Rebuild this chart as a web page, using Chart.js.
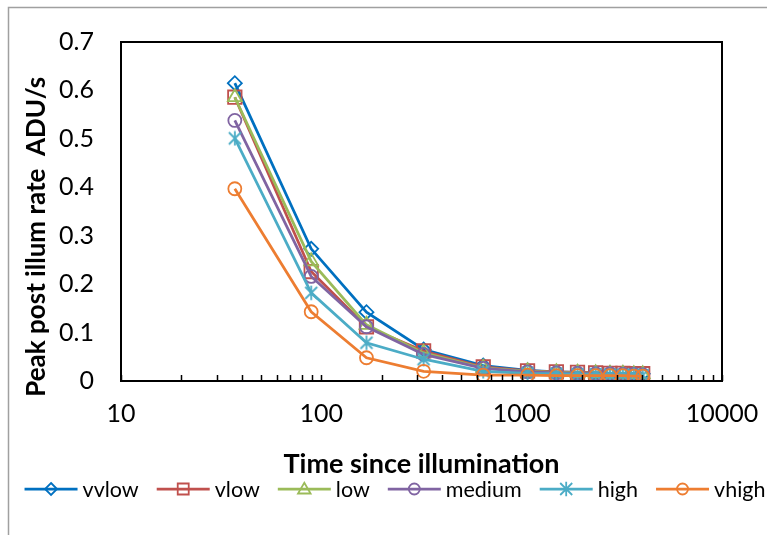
<!DOCTYPE html>
<html>
<head>
<meta charset="utf-8">
<script src="https://cdn.jsdelivr.net/npm/chart.js@4"></script>
<style>
  html, body { margin: 0; padding: 0; background: #fff; }
  #wrap { width: 767px; height: 535px; }
</style>
</head>
<body>
<div id="wrap"><canvas id="chart" width="767" height="535"></canvas></div>
<script>
// time since illumination (x), one value per measurement
const times = [37, 89, 168, 324, 643, 1070, 1490, 1900, 2340, 2760, 3200, 3630, 4020];

// peak post illum rate, ADU/s
const vvlow  = [0.615, 0.273, 0.142, 0.065, 0.032, 0.022, 0.019, 0.018, 0.017, 0.016, 0.016, 0.015, 0.015];
const vlow   = [0.586, 0.226, 0.112, 0.062, 0.029, 0.021, 0.019, 0.018, 0.017, 0.016, 0.016, 0.015, 0.015];
const low    = [0.586, 0.247, 0.116, 0.058, 0.027, 0.020, 0.018, 0.017, 0.016, 0.015, 0.015, 0.014, 0.014];
const medium = [0.538, 0.216, 0.112, 0.055, 0.026, 0.019, 0.017, 0.016, 0.015, 0.015, 0.014, 0.014, 0.013];
const high   = [0.501, 0.182, 0.079, 0.045, 0.020, 0.016, 0.015, 0.014, 0.014, 0.013, 0.013, 0.013, 0.012];
const vhigh  = [0.397, 0.143, 0.048, 0.020, 0.012, 0.012, 0.011, 0.011, 0.011, 0.011, 0.011, 0.010, 0.010];

const seriesNames = ["vvlow", "vlow", "low", "medium", "high", "vhigh"];
const seriesData = [vvlow, vlow, low, medium, high, vhigh];
const seriesColors = ["#0070C0", "#C0504D", "#9BBB59", "#8064A2", "#4BACC6", "#ED7D31"];
const seriesMarkers = ["diamond", "square", "triangle", "circle", "asterisk", "circle"];

const xTickValues = [10, 20, 30, 40, 50, 60, 70, 80, 90,
                     100, 200, 300, 400, 500, 600, 700, 800, 900,
                     1000, 2000, 3000, 4000, 5000, 6000, 7000, 8000, 9000, 10000];
const yMax = 0.7;
const yStep = 0.1;

const FONT = "Lato, 'Open Sans', sans-serif";
const LINE_W = 2.75;

function drawMarker(ctx, kind, x, y, s) {
    /**
     * Draws one open marker centred on (x, y). s is the half size.
     */
    ctx.beginPath();
    if (kind === "diamond") {
        ctx.moveTo(x, y - s); ctx.lineTo(x + s, y); ctx.lineTo(x, y + s); ctx.lineTo(x - s, y); ctx.closePath();
    } else if (kind === "square") {
        ctx.rect(x - s, y - s, 2 * s, 2 * s);
    } else if (kind === "triangle") {
        ctx.moveTo(x, y - s * 1.05); ctx.lineTo(x + s * 1.05, y + s * 0.75); ctx.lineTo(x - s * 1.05, y + s * 0.75); ctx.closePath();
    } else if (kind === "circle") {
        ctx.arc(x, y, s, 0, Math.PI * 2);
    } else if (kind === "asterisk") {
        ctx.moveTo(x - s, y - s); ctx.lineTo(x + s, y + s);
        ctx.moveTo(x + s, y - s); ctx.lineTo(x - s, y + s);
        ctx.moveTo(x, y - s * 1.2); ctx.lineTo(x, y + s * 1.2);
    }
    ctx.stroke();
}

function asteriskImage(color) {
    const c = document.createElement("canvas");
    c.width = 16; c.height = 16;
    const g = c.getContext("2d");
    g.strokeStyle = color;
    g.lineWidth = 1.8;
    drawMarker(g, "asterisk", 8, 8, 6);
    return c;
}

function pointStyleFor(kind, color) {
    if (kind === "diamond") return {style: "rectRot", radius: 7};
    if (kind === "square") return {style: "rect", radius: 9.5};
    if (kind === "triangle") return {style: "triangle", radius: 8};
    if (kind === "circle") return {style: "circle", radius: 6.5};
    return {style: asteriskImage(color), radius: 7};
}

const datasets = seriesNames.map((name, i) => {
    const ps = pointStyleFor(seriesMarkers[i], seriesColors[i]);
    return {
        label: name,
        data: times.map((t, k) => ({x: t, y: seriesData[i][k]})),
        borderColor: seriesColors[i],
        backgroundColor: "rgba(0,0,0,0)",
        borderWidth: LINE_W,
        pointStyle: ps.style,
        pointRadius: ps.radius,
        pointBorderWidth: 1.8,
        pointBorderColor: seriesColors[i],
        pointBackgroundColor: "rgba(0,0,0,0)",
        tension: 0,
        order: seriesNames.length - i
    };
});

// grey outer border, plot frame, inward x ticks and the legend
const decorPlugin = {
    id: "decor",
    beforeDraw(chart) {
        const ctx = chart.ctx;
        ctx.save();
        ctx.fillStyle = "#fff";
        ctx.fillRect(0, 0, chart.width, chart.height);
        ctx.strokeStyle = "#a0a0a0";
        ctx.lineWidth = 1.5;
        ctx.beginPath();
        ctx.moveTo(8.5, chart.height);
        ctx.lineTo(8.5, 7.5);
        ctx.lineTo(chart.width, 7.5);
        ctx.stroke();
        ctx.restore();
    },
    afterDraw(chart) {
        const ctx = chart.ctx;
        const area = chart.chartArea;
        const xs = chart.scales.x;
        ctx.save();
        ctx.strokeStyle = "#000";
        ctx.lineWidth = 1.5;
        ctx.beginPath();
        xs.ticks.forEach(t => {
            const px = Math.round(xs.getPixelForValue(t.value)) + 0.5;
            ctx.moveTo(px, area.bottom);
            ctx.lineTo(px, area.bottom - 6);
        });
        ctx.stroke();
        ctx.lineWidth = 2;
        ctx.strokeRect(area.left, area.top, area.right - area.left, area.bottom - area.top);

        // legend: line + marker + label, centred as one row
        const legendY = 489;
        const lineLen = 53, textGap = 5, itemGap = 18;
        ctx.font = "21.5px " + FONT;
        ctx.textBaseline = "middle";
        const widths = seriesNames.map(n => lineLen + textGap + ctx.measureText(n).width);
        const total = widths.reduce((a, b) => a + b, 0) + itemGap * (widths.length - 1);
        let x = 395 - total / 2;
        seriesNames.forEach((n, i) => {
            ctx.strokeStyle = seriesColors[i];
            ctx.lineWidth = LINE_W;
            ctx.beginPath();
            ctx.moveTo(x, legendY);
            ctx.lineTo(x + lineLen, legendY);
            ctx.stroke();
            ctx.lineWidth = 1.8;
            const m = seriesMarkers[i];
            const s = m === "square" ? 5.5 : m === "circle" ? 5.5 : 6;
            drawMarker(ctx, m, x + lineLen / 2, legendY, s);
            ctx.fillStyle = "#000";
            ctx.fillText(n, x + lineLen + textGap, legendY + 1);
            x += widths[i] + itemGap;
        });
        ctx.restore();
    }
};

new Chart(document.getElementById("chart"), {
    type: "line",
    data: {datasets},
    plugins: [decorPlugin],
    options: {
        responsive: false,
        animation: false,
        devicePixelRatio: 1,
        layout: {padding: {left: 12, right: 45, top: 42, bottom: 54}},
        plugins: {
            legend: {display: false},
            tooltip: {enabled: false}
        },
        scales: {
            x: {
                type: "logarithmic",
                min: 10,
                max: 10000,
                afterBuildTicks: (scale) => {
                    scale.ticks = xTickValues.map(v => ({value: v}));
                },
                afterFit: (scale) => {
                    scale.height = 100;
                    scale.paddingLeft = 0;
                    scale.paddingRight = 0;
                },
                ticks: {
                    autoSkip: false,
                    maxRotation: 0,
                    padding: 18,
                    color: "#000",
                    font: {family: FONT, size: 25},
                    callback: (v) => [10, 100, 1000, 10000].includes(v) ? String(v) : ""
                },
                grid: {display: false, drawTicks: false},
                border: {display: false},
                title: {
                    display: true,
                    text: "Time since illumination",
                    color: "#000",
                    font: {family: FONT, size: 27, weight: "bold"},
                    padding: {top: 0, bottom: 1}
                }
            },
            y: {
                type: "linear",
                min: 0,
                max: yMax,
                afterFit: (scale) => { scale.width = 109; },
                ticks: {
                    stepSize: yStep,
                    padding: 27,
                    color: "#000",
                    font: {family: FONT, size: 25},
                    callback: (v) => Number(v.toFixed(1)).toString()
                },
                grid: {display: false, drawTicks: false},
                border: {display: false},
                title: {
                    display: true,
                    text: "Peak post illum rate  ADU/s        ",
                    color: "#000",
                    font: {family: FONT, size: 26, weight: "bold"},
                    padding: {top: 9, bottom: 0}
                }
            }
        }
    }
});
</script>
</body>
</html>
